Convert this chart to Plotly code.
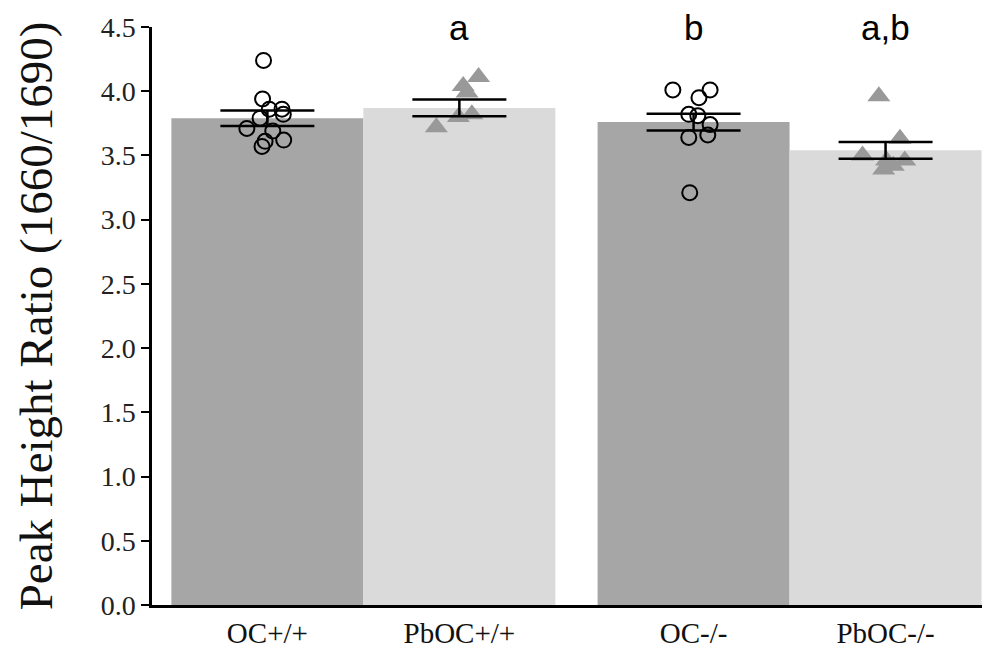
import plotly.graph_objects as go

categories = ["OC+/+", "PbOC+/+", "OC-/-", "PbOC-/-"]
positions = [0, 1, 2.22, 3.22]
means = [3.79, 3.87, 3.76, 3.54]
sems = [0.06, 0.065, 0.065, 0.065]
letters = ["", "a", "b", "a,b"]
bar_colors = ["#a6a6a6", "#dadada", "#a6a6a6", "#dadada"]

oc_wt = [4.24, 3.94, 3.86, 3.86, 3.82, 3.79, 3.71, 3.69, 3.62, 3.61, 3.57]
oc_wt_jit = [-0.02, -0.025, 0.01, 0.076, 0.083, -0.038, -0.107, 0.028, 0.085, -0.012, -0.028]
pboc_wt = [4.11, 4.04, 3.99, 3.82, 3.80, 3.72]
pboc_wt_jit = [0.10, 0.02, 0.04, 0.065, -0.005, -0.12]
oc_ko = [4.01, 4.01, 3.95, 3.82, 3.81, 3.74, 3.64, 3.66, 3.21]
oc_ko_jit = [-0.108, 0.086, 0.028, -0.025, 0.022, 0.086, -0.025, 0.074, -0.02]
pboc_ko = [3.96, 3.63, 3.50, 3.46, 3.46, 3.39, 3.42]
pboc_ko_jit = [-0.035, 0.075, -0.12, 0.005, 0.10, -0.01, 0.04]

fig = go.Figure()

fig.add_trace(go.Bar(x=positions, y=means, width=[1, 1, 1, 1],
                     marker=dict(color=bar_colors, line=dict(width=0)),
                     showlegend=False, hoverinfo="skip"))

def pts(vals, jit, idx, symbol, color, size, lw):
    fig.add_trace(go.Scatter(
        x=[positions[idx] + j for j in jit], y=vals, mode="markers",
        marker=dict(symbol=symbol, size=size, color=color,
                    line=dict(width=lw, color=color)),
        showlegend=False))

pts(oc_wt, oc_wt_jit, 0, "circle-open", "black", 15, 2)
pts(pboc_wt, pboc_wt_jit, 1, "triangle-up", "#999999", 20, 0)
pts(oc_ko, oc_ko_jit, 2, "circle-open", "black", 15, 2)
pts(pboc_ko, pboc_ko_jit, 3, "triangle-up", "#999999", 20, 0)

fig.add_trace(go.Scatter(
    x=positions, y=means, mode="markers",
    marker=dict(size=1, color="rgba(0,0,0,0)"),
    error_y=dict(type="data", array=sems, visible=True, color="black",
                 thickness=2.5, width=47),
    showlegend=False, hoverinfo="skip"))

for p, t in zip(positions, letters):
    if t:
        fig.add_annotation(x=p, y=4.5, text=t, showarrow=False,
                           yanchor="middle",
                           font=dict(family="Liberation Sans", size=35, color="black"))

fig.update_layout(
    width=982, height=641,
    margin=dict(l=144, r=0, t=19, b=41),
    paper_bgcolor="white", plot_bgcolor="white",
    xaxis=dict(range=[-0.601, 3.764], tickvals=positions, ticktext=categories,
               showgrid=False, zeroline=False, showline=True, linecolor="black",
               linewidth=2.5, ticks="",
               tickfont=dict(family="Liberation Serif", size=29, color="#111")),
    yaxis=dict(range=[0, 4.5], tickvals=[0, 0.5, 1, 1.5, 2, 2.5, 3, 3.5, 4, 4.5],
               ticktext=["0.0", "0.5", "1.0", "1.5", "2.0", "2.5", "3.0", "3.5", "4.0", "4.5"],
               showgrid=False, zeroline=False, showline=True, linecolor="black",
               linewidth=2.5, ticks="outside", ticklen=8, tickwidth=2, tickcolor="black",
               tickfont=dict(family="Liberation Serif", size=28, color="#222"),
               title=dict(text="Peak Height Ratio (1660/1690)", standoff=34,
                          font=dict(family="Liberation Serif", size=47, color="#111"))),
)

fig.write_html("out.html")
